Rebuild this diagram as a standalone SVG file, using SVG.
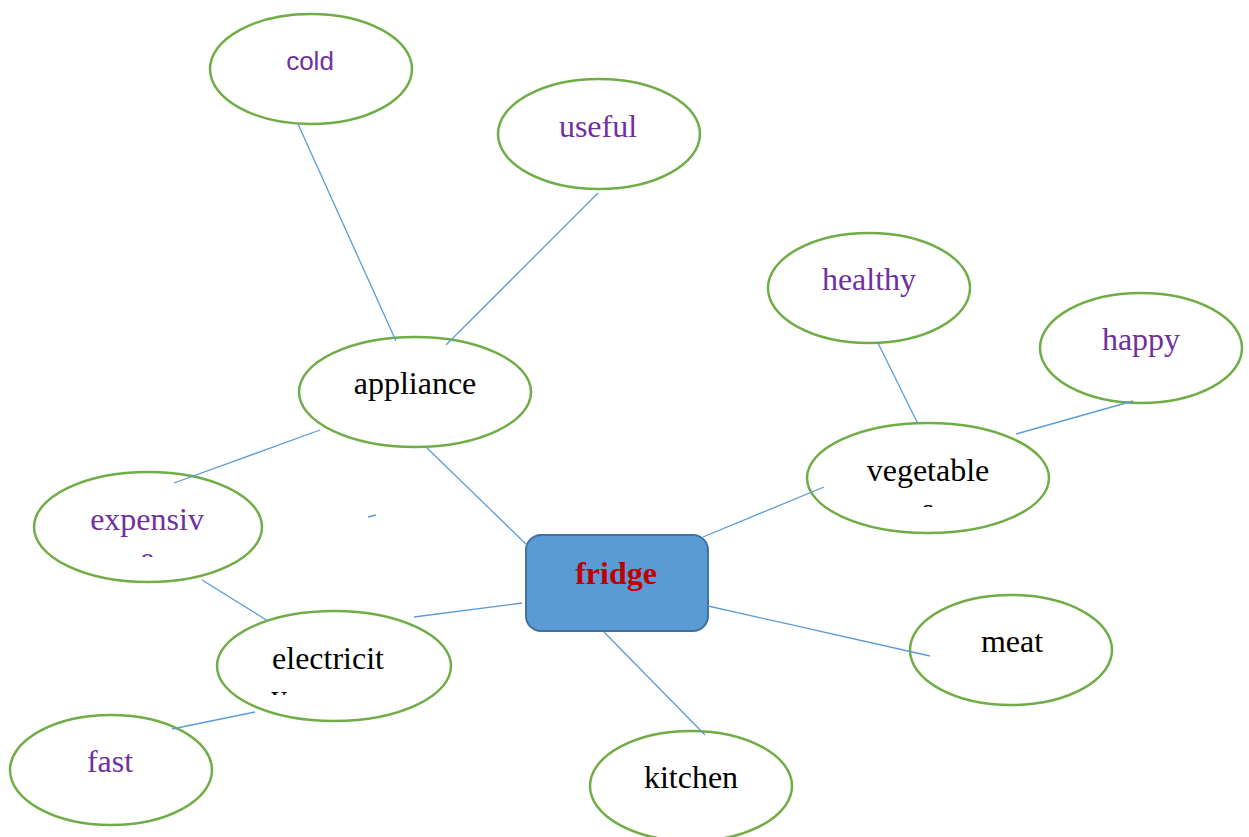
<svg xmlns="http://www.w3.org/2000/svg" width="1249" height="837" viewBox="0 0 1249 837">
  <style>
    .bubble { fill: #ffffff; stroke: #70ad47; stroke-width: 2.5; }
    .hub { fill: #5b9bd5; stroke: #41719c; stroke-width: 2; }
    .link { stroke: #5b9bd5; stroke-width: 1.3; fill: none; }
    .serif { font-family: "Liberation Serif", "Times New Roman", serif; font-size: 32px; text-anchor: middle; }
    .sans { font-family: "Liberation Sans", Arial, sans-serif; font-size: 26px; text-anchor: middle; }
    .purple { fill: #7030a0; }
    .black { fill: #000000; }
    .title { font-family: "Liberation Serif", "Times New Roman", serif; font-size: 32px; font-weight: bold; fill: #c00000; text-anchor: middle; }
  </style>
  <defs>
    <!-- second text lines that overflow their boxes are cut off -->
    <clipPath id="clip-expensive"><rect x="40" y="540" width="220" height="17"/></clipPath>
    <clipPath id="clip-electricity"><rect x="220" y="680" width="230" height="15"/></clipPath>
    <clipPath id="clip-vegetable"><rect x="810" y="495" width="240" height="12"/></clipPath>
  </defs>
  <rect width="1249" height="837" fill="#ffffff"/>

  <g id="node-cold">
    <ellipse class="bubble" cx="311" cy="69" rx="101" ry="55"/>
    <text class="sans purple" x="310" y="70">cold</text>
  </g>
  <g id="node-useful">
    <ellipse class="bubble" cx="599" cy="134" rx="101" ry="55"/>
    <text class="serif purple" x="598" y="137">useful</text>
  </g>
  <g id="node-healthy">
    <ellipse class="bubble" cx="869" cy="288" rx="101" ry="55"/>
    <text class="serif purple" x="869" y="290">healthy</text>
  </g>
  <g id="node-happy">
    <ellipse class="bubble" cx="1141" cy="348" rx="101" ry="55"/>
    <text class="serif purple" x="1141" y="350">happy</text>
  </g>
  <g id="node-appliance">
    <ellipse class="bubble" cx="415" cy="392" rx="116" ry="55"/>
    <text class="serif black" x="415" y="394">appliance</text>
  </g>
  <g id="node-vegetables">
    <ellipse class="bubble" cx="928" cy="478" rx="121" ry="55"/>
    <text class="serif black" x="928" y="481">vegetable</text>
    <text class="serif black" x="928" y="520" clip-path="url(#clip-vegetable)">s</text>
  </g>
  <g id="node-expensive">
    <ellipse class="bubble" cx="148" cy="527" rx="114" ry="55"/>
    <text class="serif purple" x="147" y="530">expensiv</text>
    <text class="serif purple" x="147" y="569" clip-path="url(#clip-expensive)">e</text>
  </g>
  <g id="node-electricity">
    <ellipse class="bubble" cx="334" cy="666" rx="117" ry="55"/>
    <text class="serif black" x="328" y="669">electricit</text>
    <text class="serif black" x="279" y="707" clip-path="url(#clip-electricity)">y</text>
  </g>
  <g id="node-meat">
    <ellipse class="bubble" cx="1011" cy="650" rx="101" ry="55"/>
    <text class="serif black" x="1012" y="652">meat</text>
  </g>
  <g id="node-fast">
    <ellipse class="bubble" cx="111" cy="770" rx="101" ry="55"/>
    <text class="serif purple" x="110" y="772">fast</text>
  </g>
  <g id="node-kitchen">
    <ellipse class="bubble" cx="691" cy="786" rx="101" ry="55"/>
    <text class="serif black" x="691" y="788">kitchen</text>
  </g>
  <g id="node-fridge">
    <rect class="hub" x="526" y="535" width="182" height="96" rx="15" ry="15"/>
    <text class="title" x="616" y="584">fridge</text>
  </g>

  <g id="connectors">
    <line class="link" x1="298" y1="124" x2="396" y2="341"/>
    <line class="link" x1="598" y1="193" x2="446" y2="345"/>
    <line class="link" x1="426" y1="447" x2="527" y2="545"/>
    <line class="link" x1="320" y1="430" x2="174" y2="483"/>
    <line class="link" x1="368" y1="517" x2="376" y2="515"/>
    <line class="link" x1="202" y1="580" x2="268" y2="621"/>
    <line class="link" x1="414" y1="617" x2="522" y2="603"/>
    <line class="link" x1="255" y1="712" x2="172" y2="729"/>
    <line class="link" x1="604" y1="632" x2="705" y2="735"/>
    <line class="link" x1="708" y1="606" x2="930" y2="656"/>
    <line class="link" x1="703" y1="537" x2="824" y2="487"/>
    <line class="link" x1="878" y1="343" x2="918" y2="424"/>
    <line class="link" x1="1016" y1="434" x2="1133" y2="401"/>
  </g>
</svg>
